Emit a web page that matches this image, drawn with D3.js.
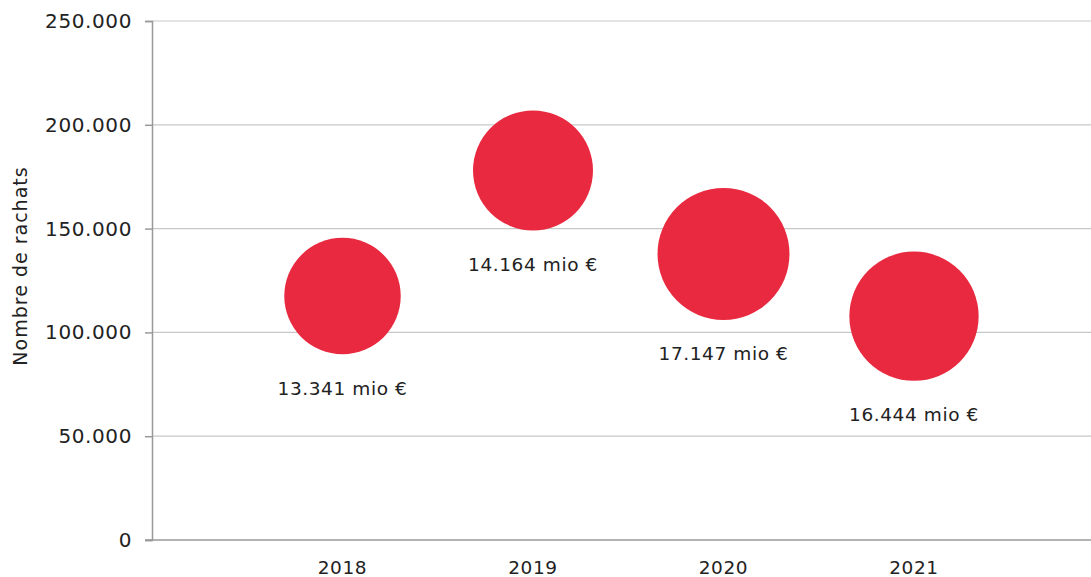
<!DOCTYPE html>
<html>
<head>
<meta charset="utf-8">
<script src="https://cdn.jsdelivr.net/npm/d3@7"></script>
<style>
  body { margin: 0; background: #fff; }
  svg { display: block; font-family: "DejaVu Sans", sans-serif; letter-spacing: 0.6px; }
</style>
</head>
<body>
<svg id="chart" width="1091" height="577"></svg>
<script>
// data
const years = [2018, 2019, 2020, 2021];
const rachats = [117500, 178000, 137800, 107800];
const montants = [13.341, 14.164, 17.147, 16.444]; // mio €
const yTicks = [0, 50000, 100000, 150000, 200000, 250000];

const svg = d3.select("#chart");
const plotLeft = 152, plotRight = 1091, plotTop = 21, plotBottom = 540;
const fs = "18.5px";

const x = d3.scaleLinear().domain([2017, 2022]).range([plotLeft, plotLeft + 5 * 190.5]);
const y = d3.scaleLinear().domain([0, 250000]).range([plotBottom, plotTop]);
const r = d3.scaleSqrt().domain([0, 17.147]).range([0, 66]);

const fmt = v => d3.format(",")(v).replace(/,/g, ".");

// grid
svg.append("g")
  .selectAll("line")
  .data(yTicks.filter(d => d > 0))
  .join("line")
  .attr("x1", plotLeft).attr("x2", plotRight)
  .attr("y1", d => y(d)).attr("y2", d => y(d))
  .attr("stroke", "#c8c8c8").attr("stroke-width", 1.2);

// y axis
const yAxis = d3.axisLeft(y).tickValues(yTicks).tickFormat(fmt).tickSize(7).tickPadding(13);
const gy = svg.append("g").attr("transform", `translate(${plotLeft},0)`).call(yAxis);
gy.attr("font-family", null);
gy.select(".domain").attr("stroke", "#999").attr("stroke-width", 1.5);
gy.selectAll(".tick line").attr("stroke", "#999").attr("stroke-width", 1.5);
gy.selectAll("text").attr("fill", "#222").style("font-size", "20px");

// x axis
svg.append("line")
  .attr("x1", plotLeft - 7).attr("x2", plotRight)
  .attr("y1", plotBottom).attr("y2", plotBottom)
  .attr("stroke", "#999").attr("stroke-width", 1.5);

svg.append("g")
  .selectAll("text")
  .data(years)
  .join("text")
  .attr("x", d => x(d))
  .attr("y", 568)
  .attr("dy", "0.35em")
  .attr("text-anchor", "middle")
  .attr("fill", "#222")
  .style("font-size", fs)
  .text(d => d);

// y title
svg.append("text")
  .attr("transform", "translate(20,266) rotate(-90)")
  .attr("dy", "0.35em")
  .attr("text-anchor", "middle")
  .attr("fill", "#222")
  .style("font-size", "19px")
  .style("letter-spacing", "1px")
  .text("Nombre de rachats");

// bubbles
const pts = years.map((yr, i) => ({ yr, v: rachats[i], m: montants[i] }));

svg.append("g")
  .selectAll("circle")
  .data(pts)
  .join("circle")
  .attr("cx", d => x(d.yr))
  .attr("cy", d => y(d.v))
  .attr("r", d => r(d.m))
  .attr("fill", "#e9293f");

svg.append("g")
  .selectAll("text")
  .data(pts)
  .join("text")
  .attr("x", d => x(d.yr))
  .attr("y", d => y(d.v) + r(d.m) + 34)
  .attr("dy", "0.35em")
  .attr("text-anchor", "middle")
  .attr("fill", "#222")
  .style("font-size", fs)
  .text(d => d3.format(".3f")(d.m) + " mio €");
</script>
</body>
</html>
